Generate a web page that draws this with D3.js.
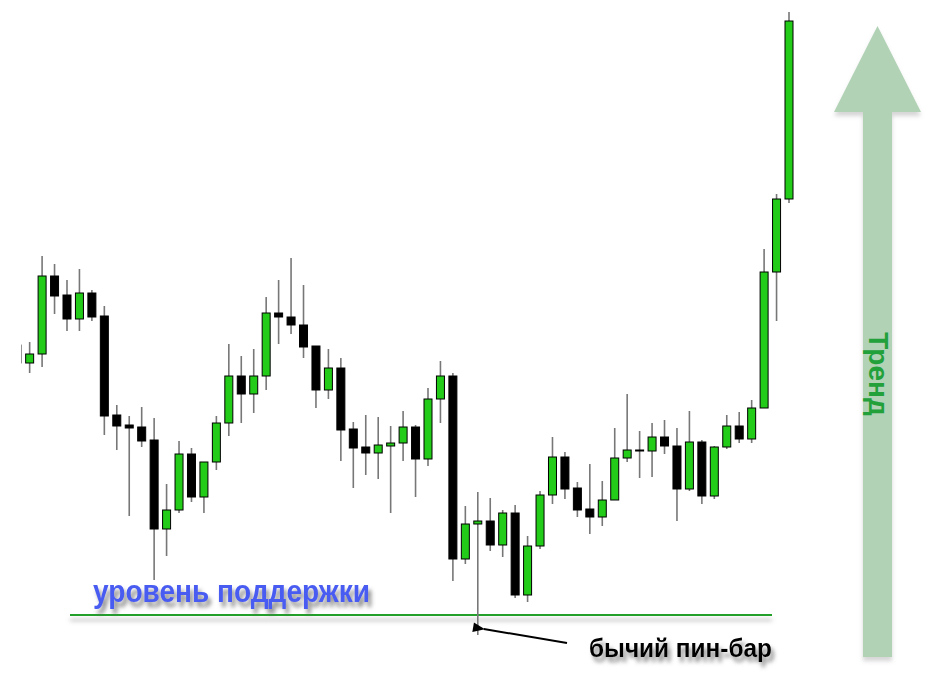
<!DOCTYPE html>
<html>
<head>
<meta charset="utf-8">
<script src="https://cdn.jsdelivr.net/npm/d3@7"></script>
<style>
  html, body { margin: 0; padding: 0; background: #fff; }
  svg { display: block; }
</style>
</head>
<body>
<svg id="chart" width="938" height="698"></svg>
<script>
// ---- data (price units) ----
const opens  = [355,337,346,424,405,381,407,384,285,275,273,260,171,190,246,203,238,277,324,306,324,387,383,375,354,310,332,271,253,247,254,257,273,241,301,324,141,176,179,155,187,105,154,205,243,212,191,183,200,242,250,249,263,254,211,258,204,253,274,261,292,428,501];
const highs  = [355,358,444,436,420,431,410,394,295,284,293,282,216,259,252,238,284,356,344,351,403,420,442,415,354,351,342,278,285,283,274,289,275,312,339,327,194,208,202,190,195,164,209,263,248,218,236,219,272,306,269,277,280,272,289,260,254,285,288,300,451,506,688];
const lows   = [337,327,333,386,369,369,379,265,250,184,253,120,144,187,198,187,230,264,277,287,310,356,366,342,292,301,239,212,225,221,187,239,203,234,277,119,136,65,149,143,102,98,151,196,201,183,166,174,200,238,222,223,246,179,209,196,201,251,257,257,292,379,497];
const closes = [337,346,424,404,381,407,383,284,274,272,259,171,190,246,203,238,277,324,306,324,387,383,375,353,310,332,270,252,247,255,257,273,241,301,324,141,176,179,155,187,105,154,205,243,211,190,183,200,242,250,250,263,254,211,258,204,253,274,261,292,428,501,679];
const supportLevel = 85;
const pinBarIndex = 37;
const labels = {
  support: "уровень поддержки",
  pinBar: "бычий пин-бар",
  trend: "Тренд"
};

const candles = opens.map((o, i) => ({ i, o, h: highs[i], l: lows[i], c: closes[i] }));

const svg = d3.select("#chart");
const W = 938, H = 698;

const x = d3.scaleLinear().domain([0, candles.length - 1]).range([17.2, 789]);
const y = d3.scaleLinear().domain([0, 700]).range([700, 0]);

const defs = svg.append("defs");
const tShadow = defs.append("filter").attr("id", "tshadow").attr("x", "-10%").attr("y", "-30%").attr("width", "130%").attr("height", "190%");
tShadow.append("feDropShadow").attr("dx", 3).attr("dy", 5).attr("stdDeviation", 2.2).attr("flood-color", "#666").attr("flood-opacity", 0.75);
const lShadow = defs.append("filter").attr("id", "lshadow").attr("filterUnits", "userSpaceOnUse")
  .attr("x", 50).attr("y", 590).attr("width", 760).attr("height", 50);
lShadow.append("feDropShadow").attr("dx", 0).attr("dy", 5).attr("stdDeviation", 2).attr("flood-color", "#777").attr("flood-opacity", 0.55);
const aShadow = defs.append("filter").attr("id", "ashadow").attr("x", "-20%").attr("y", "-5%").attr("width", "140%").attr("height", "110%");
aShadow.append("feDropShadow").attr("dx", 0).attr("dy", 4).attr("stdDeviation", 2).attr("flood-color", "#888").attr("flood-opacity", 0.35);
defs.append("clipPath").attr("id", "plotclip").append("rect").attr("x", 21.5).attr("y", 0).attr("width", 800).attr("height", H);
defs.append("marker").attr("id", "ah").attr("viewBox", "0 0 10 10").attr("refX", 1).attr("refY", 5)
  .attr("markerWidth", 7).attr("markerHeight", 6).attr("orient", "auto-start-reverse")
  .append("path").attr("d", "M10,1 L0,5 L10,9 Z").attr("fill", "#000");

// ---- big trend arrow ----
const ax = 877.5, aw = 14.5, headW = 43.5, apexY = 26, baseY = 112, tailY = 657;
svg.append("path")
  .attr("d", `M${ax},${apexY} L${ax + headW},${baseY} L${ax + aw},${baseY} L${ax + aw},${tailY} L${ax - aw},${tailY} L${ax - aw},${baseY} L${ax - headW},${baseY} Z`)
  .attr("fill", "#b1d2b5")
  .attr("filter", "url(#ashadow)");
svg.append("text")
  .attr("transform", `translate(${ax - 9},${374}) rotate(90)`)
  .attr("text-anchor", "middle")
  .attr("font-family", "Liberation Sans, Arial, sans-serif")
  .attr("font-weight", "bold")
  .attr("font-size", 28)
  .attr("fill", "#22a03a")
  .text(labels.trend);

// ---- support level ----
svg.append("line")
  .attr("x1", 70).attr("x2", 772)
  .attr("y1", y(supportLevel)).attr("y2", y(supportLevel))
  .attr("stroke", "#22a02a").attr("stroke-width", 2.2)
  .attr("filter", "url(#lshadow)");

svg.append("text")
  .attr("x", 93).attr("y", 602)
  .attr("font-family", "Liberation Sans, Arial, sans-serif")
  .attr("font-weight", "bold")
  .attr("font-size", 32)
  .attr("textLength", 277).attr("lengthAdjust", "spacingAndGlyphs")
  .attr("fill", "#4a5cf2")
  .attr("filter", "url(#tshadow)")
  .text(labels.support);

// ---- candles ----
const g = svg.append("g").attr("clip-path", "url(#plotclip)");
const bodyW = 8;
g.selectAll("line.wick").data(candles).join("line")
  .attr("class", "wick")
  .attr("x1", d => x(d.i)).attr("x2", d => x(d.i))
  .attr("y1", d => y(d.h)).attr("y2", d => y(d.l))
  .attr("stroke", "#777").attr("stroke-width", 1.6);
g.selectAll("rect.body").data(candles).join("rect")
  .attr("class", "body")
  .attr("x", d => x(d.i) - bodyW / 2)
  .attr("y", d => y(Math.max(d.o, d.c)))
  .attr("width", bodyW)
  .attr("height", d => Math.max(1, Math.abs(y(d.o) - y(d.c))))
  .attr("fill", d => d.c > d.o ? "#22cc18" : "#000")
  .attr("stroke", "#000").attr("stroke-width", 1);

// ---- pin bar annotation ----
const pb = candles[pinBarIndex];
svg.append("line")
  .attr("x1", 567).attr("y1", 643)
  .attr("x2", x(pb.i) + 6).attr("y2", 629)
  .attr("stroke", "#000").attr("stroke-width", 2)
  .attr("marker-end", "url(#ah)");
svg.append("text")
  .attr("x", 589).attr("y", 657)
  .attr("font-family", "Liberation Sans, Arial, sans-serif")
  .attr("font-weight", "bold")
  .attr("font-size", 26)
  .attr("textLength", 183).attr("lengthAdjust", "spacingAndGlyphs")
  .attr("fill", "#000")
  .attr("filter", "url(#tshadow)")
  .text(labels.pinBar);
</script>
</body>
</html>
